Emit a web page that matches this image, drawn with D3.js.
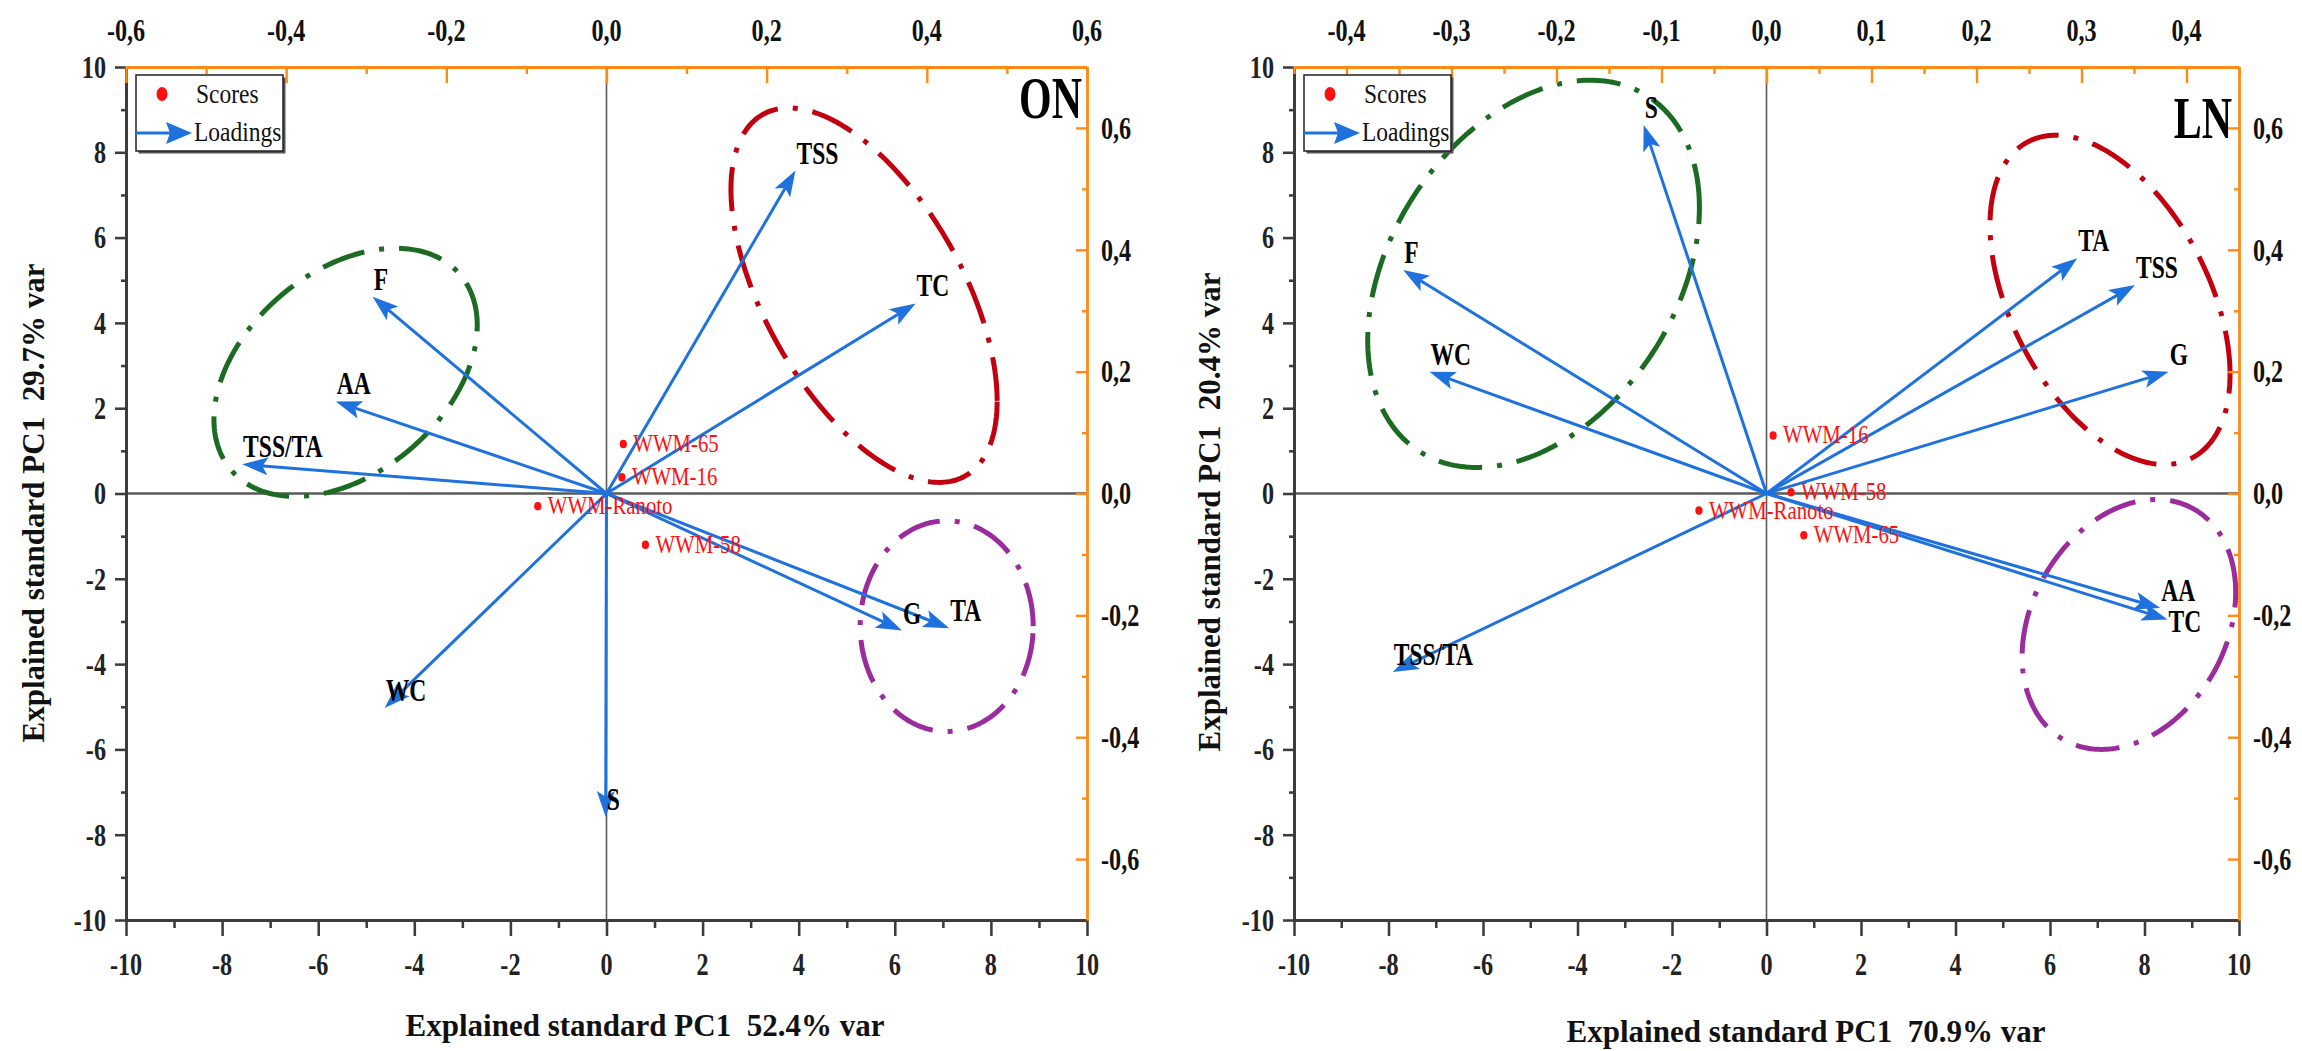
<!DOCTYPE html>
<html>
<head>
<meta charset="utf-8">
<script src="https://cdn.jsdelivr.net/npm/d3@7"></script>
<style>
  body { margin: 0; background: #fff; }
  svg { display: block; }
</style>
</head>
<body>
<svg id="fig" width="2302" height="1051"></svg>
<script>
// ---------------- data ----------------
// principal-component tick marks (scores scale, bottom/left axes)
const pcTicks = [-10, -8, -6, -4, -2, 0, 2, 4, 6, 8, 10];
const pcMinorTicks = [-9, -7, -5, -3, -1, 1, 3, 5, 7, 9];
// loadings scale ticks (top/right axes)
const onTopTicks = [-0.6, -0.4, -0.2, 0.0, 0.2, 0.4, 0.6];
const onTopMinor = [-0.5, -0.3, -0.1, 0.1, 0.3, 0.5];
const lnTopTicks = [-0.4, -0.3, -0.2, -0.1, 0.0, 0.1, 0.2, 0.3, 0.4];
const lnTopMinor = [-0.45, -0.35, -0.25, -0.15, -0.05, 0.05, 0.15, 0.25, 0.35, 0.45];
const rightTicks = [-0.6, -0.4, -0.2, 0.0, 0.2, 0.4, 0.6];
const rightMinor = [-0.5, -0.3, -0.1, 0.1, 0.3, 0.5];

// ON: variable loadings
const onVars  = ["TSS", "TC", "F", "AA", "TSS/TA", "WC", "S", "G", "TA"];
const onLoadX = [0.236, 0.386, -0.292, -0.338, -0.455, -0.277, -0.001, 0.369, 0.428];
const onLoadY = [0.530, 0.312, 0.323, 0.151, 0.048, -0.352, -0.531, -0.225, -0.221];
// ON: genotype scores
const onScoreNames = ["WWM-65", "WWM-16", "WWM-Ranoto", "WWM-58"];
const onScoreX = [0.35, 0.32, -1.43, 0.81];
const onScoreY = [1.16, 0.38, -0.30, -1.20];

// LN: variable loadings
const lnVars  = ["S", "F", "WC", "TA", "TSS", "G", "AA", "TC", "TSS/TA"];
const lnLoadX = [-0.117, -0.346, -0.321, 0.296, 0.351, 0.383, 0.375, 0.382, -0.356];
const lnLoadY = [0.605, 0.367, 0.200, 0.386, 0.342, 0.200, -0.188, -0.207, -0.293];
// LN: genotype scores
const lnScoreNames = ["WWM-16", "WWM-58", "WWM-Ranoto", "WWM-65"];
const lnScoreX = [0.14, 0.52, -1.43, 0.79];
const lnScoreY = [1.36, 0.03, -0.40, -0.98];

// variable clusters outlined on each biplot (PC units: centre, half-extents, skew)
const clusterNames = ["green", "red", "purple"];
const onClusterCx = [-5.43, 5.36, 7.08];
const onClusterCy = [2.84, 4.65, -3.11];
const onClusterRx = [2.74, 2.77, 1.80];
const onClusterRy = [2.91, 4.39, 2.47];
const onClusterSkew = [0.39, -0.60, 0.0];
const lnClusterCx = [-4.93, 7.27, 7.67];
const lnClusterCy = [5.15, 4.54, -3.07];
const lnClusterRx = [3.51, 2.54, 2.26];
const lnClusterRy = [4.54, 3.86, 2.93];
const lnClusterSkew = [0.35, -0.47, 0.26];

// ---------------- styles ----------------
const SERIF = "'Liberation Serif','Times New Roman',Times,serif";
const AXIS_DARK = "#3c3c3c";
const AXIS_ORANGE = "#ff8a14";
const ARROW_BLUE = "#1f72de";
const SCORE_RED = "#ff1010";
const clusterColor = { green: "#1c6b22", red: "#c2000e", purple: "#9a2c9e" };

const svg = d3.select("#fig");

function fmtLoad(v) {
  const s = Math.abs(v).toFixed(1).replace(".", ",");
  return (v < -1e-9 ? "-" : "") + s;
}
function fmtPC(v) { return (v < 0 ? "-" : "") + Math.abs(v); }

function styleAxis(sel, color, width, keepDomain) {
  sel.selectAll(".tick text").remove();
  sel.selectAll(".tick line").attr("stroke", color).attr("stroke-width", width * 0.85);
  if (keepDomain) sel.select(".domain").attr("stroke", color).attr("stroke-width", width);
  else sel.select(".domain").remove();
}

function drawPanel(p) {
  const g = svg.append("g");
  const x = d3.scaleLinear().domain([-10, 10]).range([p.left, p.right]);
  const y = d3.scaleLinear().domain([-10, 10]).range([p.bottom, p.top]);
  const xl = d3.scaleLinear().domain(p.loadDomainX).range([p.left, p.right]);
  const yl = d3.scaleLinear().domain([-0.7, 0.7]).range([p.bottom, p.top]);

  // zero reference lines
  g.append("line").attr("x1", p.left).attr("x2", p.right)
    .attr("y1", y(0)).attr("y2", y(0))
    .attr("stroke", "#5a5a5a").attr("stroke-width", 2.4);
  g.append("line").attr("x1", x(0)).attr("x2", x(0))
    .attr("y1", p.top).attr("y2", p.bottom)
    .attr("stroke", "#5a5a5a").attr("stroke-width", 1.6);

  // cluster outlines (dash-dot)
  const ts = d3.range(0, 2 * Math.PI, Math.PI / 120);
  clusterNames.forEach((name, i) => {
    const line = d3.line()
      .x(t => x(p.cx[i] + p.rx[i] * Math.cos(t)))
      .y(t => y(p.cy[i] + p.ry[i] * Math.sin(t + p.skew[i])))
      .curve(d3.curveLinearClosed);
    g.append("path").attr("d", line(ts))
      .attr("fill", "none")
      .attr("stroke", clusterColor[name])
      .attr("stroke-width", 5)
      .attr("stroke-dasharray", "44 15 5 15");
  });

  // loading arrows
  const ox = xl(0), oy = yl(0);
  const headL = 26, headW = 9;
  const arrows = g.append("g");
  p.vars.forEach((v, i) => {
    const tx = xl(p.loadX[i]), ty = yl(p.loadY[i]);
    const dx = tx - ox, dy = ty - oy, len = Math.hypot(dx, dy);
    const ux = dx / len, uy = dy / len, nx = -uy, ny = ux;
    arrows.append("line")
      .attr("x1", ox).attr("y1", oy)
      .attr("x2", tx - ux * headL * 0.7).attr("y2", ty - uy * headL * 0.7)
      .attr("stroke", ARROW_BLUE).attr("stroke-width", 3);
    const pts = [
      [tx, ty],
      [tx - ux * headL + nx * headW, ty - uy * headL + ny * headW],
      [tx - ux * headL * 0.78, ty - uy * headL * 0.78],
      [tx - ux * headL - nx * headW, ty - uy * headL - ny * headW]
    ];
    arrows.append("polygon").attr("points", pts.map(q => q.join(",")).join(" "))
      .attr("fill", ARROW_BLUE);
    const nudge = (p.labelNudge && p.labelNudge[v]) || 0;
    g.append("text")
      .attr("transform", `translate(${tx + 1},${ty - 7 + nudge}) scale(0.76,1)`)
      .attr("font-family", SERIF).attr("font-weight", "bold").attr("font-size", 31)
      .attr("fill", "#000")
      .text(v);
  });

  // genotype scores
  p.scoreNames.forEach((s, i) => {
    const sx = x(p.scoreX[i]), sy = y(p.scoreY[i]);
    g.append("ellipse").attr("cx", sx).attr("cy", sy).attr("rx", 3.6).attr("ry", 4.2)
      .attr("fill", SCORE_RED);
    g.append("text")
      .attr("transform", `translate(${sx + 10},${sy + 8}) scale(0.8,1)`)
      .attr("font-family", SERIF).attr("font-size", 26).attr("fill", SCORE_RED)
      .text(s);
  });

  // ---- axes ----
  // bottom (scores)
  const gb = g.append("g").attr("transform", `translate(0,${p.bottom})`);
  gb.append("g").call(d3.axisBottom(x).tickValues(pcMinorTicks).tickSize(8).tickSizeOuter(0).tickFormat(""))
    .call(s => styleAxis(s, AXIS_DARK, 3, false));
  gb.append("g").call(d3.axisBottom(x).tickValues(pcTicks).tickSize(16).tickSizeOuter(0).tickFormat(""))
    .call(s => styleAxis(s, AXIS_DARK, 3, true));
  gb.selectAll("text.tl").data(pcTicks).join("text").attr("class", "tl")
    .attr("transform", d => `translate(${x(d)},55) scale(0.78,1)`)
    .attr("text-anchor", "middle")
    .attr("font-family", SERIF).attr("font-weight", "bold").attr("font-size", 31)
    .attr("fill", "#222").text(fmtPC);

  // left (scores)
  const gL = g.append("g").attr("transform", `translate(${p.left},0)`);
  gL.append("g").call(d3.axisLeft(y).tickValues(pcMinorTicks).tickSize(5).tickSizeOuter(0).tickFormat(""))
    .call(s => styleAxis(s, AXIS_DARK, 3, false));
  gL.append("g").call(d3.axisLeft(y).tickValues(pcTicks).tickSize(11).tickSizeOuter(0).tickFormat(""))
    .call(s => styleAxis(s, AXIS_DARK, 3, true));
  gL.selectAll("text.tl").data(pcTicks).join("text").attr("class", "tl")
    .attr("transform", d => `translate(-20,${y(d)}) scale(0.78,1)`)
    .attr("text-anchor", "end").attr("dy", "0.35em")
    .attr("font-family", SERIF).attr("font-weight", "bold").attr("font-size", 31)
    .attr("fill", "#222").text(fmtPC);

  // top (loadings, PC1)
  const gt = g.append("g").attr("transform", `translate(0,${p.top})`);
  gt.append("g").call(d3.axisTop(xl).tickValues(p.topMinor).tickSize(-7).tickSizeOuter(0).tickFormat(""))
    .call(s => styleAxis(s, AXIS_ORANGE, 2.8, false));
  gt.append("g").call(d3.axisTop(xl).tickValues(p.topTicks).tickSize(-16).tickSizeOuter(0).tickFormat(""))
    .call(s => styleAxis(s, AXIS_ORANGE, 2.8, true));
  gt.selectAll("text.tl").data(p.topTicks).join("text").attr("class", "tl")
    .attr("transform", d => `translate(${xl(d)},-26) scale(0.78,1)`)
    .attr("text-anchor", "middle")
    .attr("font-family", SERIF).attr("font-weight", "bold").attr("font-size", 31)
    .attr("fill", "#111").text(fmtLoad);

  // right (loadings, PC2)
  const gr = g.append("g").attr("transform", `translate(${p.right},0)`);
  gr.append("g").call(d3.axisRight(yl).tickValues(rightMinor).tickSize(-5).tickSizeOuter(0).tickFormat(""))
    .call(s => styleAxis(s, AXIS_ORANGE, 2.8, false));
  gr.append("g").call(d3.axisRight(yl).tickValues(rightTicks).tickSize(-11).tickSizeOuter(0).tickFormat(""))
    .call(s => styleAxis(s, AXIS_ORANGE, 2.8, true));
  gr.selectAll("text.tl").data(rightTicks).join("text").attr("class", "tl")
    .attr("transform", d => `translate(14,${yl(d)}) scale(0.78,1)`)
    .attr("dy", "0.35em")
    .attr("font-family", SERIF).attr("font-weight", "bold").attr("font-size", 31)
    .attr("fill", "#111").text(fmtLoad);

  // ---- legend ----
  const lg = g.append("g").attr("transform", `translate(${p.left + 10},${p.top + 8})`);
  lg.append("rect").attr("x", 2.5).attr("y", 2.5).attr("width", 147).attr("height", 76)
    .attr("fill", "#555");
  lg.append("rect").attr("x", 0).attr("y", 0).attr("width", 147).attr("height", 76)
    .attr("fill", "#fff").attr("stroke", "#222").attr("stroke-width", 1.5);
  lg.append("ellipse").attr("cx", 26).attr("cy", 19).attr("rx", 5.5).attr("ry", 7)
    .attr("fill", SCORE_RED);
  lg.append("text").attr("transform", "translate(60,28) scale(0.84,1)")
    .attr("font-family", SERIF).attr("font-size", 28).attr("fill", "#111").text("Scores");
  lg.append("line").attr("x1", -1).attr("x2", 35).attr("y1", 58).attr("y2", 58)
    .attr("stroke", ARROW_BLUE).attr("stroke-width", 3);
  lg.append("polygon").attr("points", "56,58 30,47 34,58 30,69").attr("fill", ARROW_BLUE);
  lg.append("text").attr("transform", "translate(58,66) scale(0.84,1)")
    .attr("font-family", SERIF).attr("font-size", 28).attr("fill", "#111").text("Loadings");

  // panel tag
  g.append("text")
    .attr("transform", `translate(${p.tagX},${p.tagY}) scale(0.7,1)`)
    .attr("text-anchor", "end")
    .attr("font-family", SERIF).attr("font-weight", "bold").attr("font-size", 60)
    .attr("fill", "#000").text(p.tag);

  // axis titles
  g.append("text")
    .attr("x", p.xTitleX).attr("y", p.xTitleY)
    .attr("text-anchor", "middle").style("white-space", "pre")
    .attr("font-family", SERIF).attr("font-weight", "bold").attr("font-size", 31)
    .attr("fill", "#111").text(p.xTitle);
  g.append("text")
    .attr("transform", `translate(${p.yTitleX},${p.yTitleY}) rotate(-90)`)
    .attr("text-anchor", "middle").style("white-space", "pre")
    .attr("font-family", SERIF).attr("font-weight", "bold").attr("font-size", 31)
    .attr("fill", "#111").text(p.yTitle);
}

drawPanel({
  tag: "ON", tagX: 1082, tagY: 118,
  left: 126, right: 1087, top: 67, bottom: 920,
  loadDomainX: [-0.6, 0.6], topTicks: onTopTicks, topMinor: onTopMinor,
  vars: onVars, loadX: onLoadX, loadY: onLoadY,
  scoreNames: onScoreNames, scoreX: onScoreX, scoreY: onScoreY,
  cx: onClusterCx, cy: onClusterCy, rx: onClusterRx, ry: onClusterRy, skew: onClusterSkew,
  xTitle: "Explained standard PC1  52.4% var", xTitleX: 645, xTitleY: 1036,
  yTitle: "Explained standard PC1  29.7% var", yTitleX: 44, yTitleY: 503
});

drawPanel({
  tag: "LN", tagX: 2232, tagY: 138,
  left: 1294, right: 2239, top: 67, bottom: 920,
  loadDomainX: [-0.45, 0.45], topTicks: lnTopTicks, topMinor: lnTopMinor,
  vars: lnVars, loadX: lnLoadX, loadY: lnLoadY, labelNudge: { "TC": 19 },
  scoreNames: lnScoreNames, scoreX: lnScoreX, scoreY: lnScoreY,
  cx: lnClusterCx, cy: lnClusterCy, rx: lnClusterRx, ry: lnClusterRy, skew: lnClusterSkew,
  xTitle: "Explained standard PC1  70.9% var", xTitleX: 1806, xTitleY: 1042,
  yTitle: "Explained standard PC1  20.4% var", yTitleX: 1220, yTitleY: 512
});
</script>
</body>
</html>
